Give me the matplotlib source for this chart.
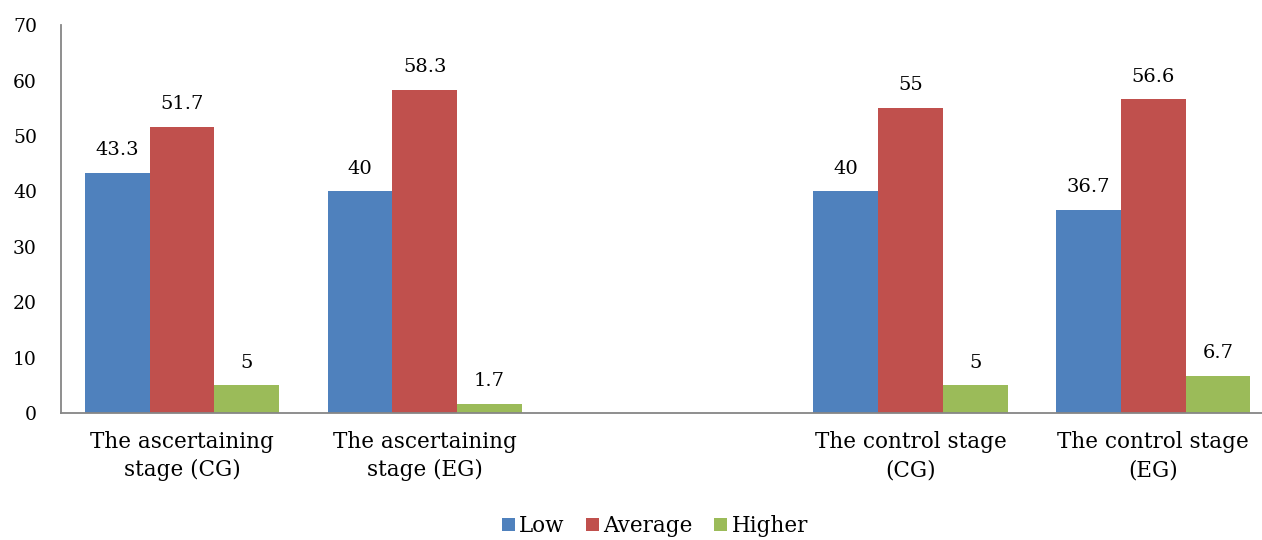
import numpy as np
import matplotlib.pyplot as plt

categories = ['The ascertaining\nstage (CG)', 'The ascertaining\nstage (EG)',
              'The control stage\n(CG)', 'The control stage\n(EG)']
low     = [43.3, 40, 40, 36.7]
average = [51.7, 58.3, 55, 56.6]
higher  = [5, 1.7, 5, 6.7]
series  = ['Low', 'Average', 'Higher']
colors  = ['#4F81BD', '#C0504D', '#9BBB59']

plt.rcParams['font.family'] = ['DejaVu Serif']

fig = plt.figure(figsize=(12.62, 5.4), dpi=100)
ax = fig.add_axes([0.048, 0.235, 0.962, 0.7185])

# empty slot between the two stages
x = np.arange(len(categories)) + (np.arange(len(categories)) >= 2)
w = 0.8/3

for k, (vals, lab, c) in enumerate(zip([low, average, higher], series, colors)):
    pos = x + (k - 1)*w
    bars = ax.bar(pos, vals, width=w, color=c, label=lab)
    for xi, v in zip(pos, vals):
        ax.text(xi, v + 2.5, f'{v:g}', ha='center', va='bottom', fontsize=14)

ax.set_xlim(-0.5, 4.5)
ax.set_ylim(0, 70)
ax.set_yticks(np.arange(0, 71, 10))
ax.set_xticks(x)
ax.set_xticklabels(categories, fontsize=15.5, linespacing=1.35)
ax.tick_params(axis='y', length=0, pad=17, labelsize=13.5)
ax.tick_params(axis='x', length=0, pad=13)

for s in ['top', 'right']:
    ax.spines[s].set_visible(False)
for s in ['left', 'bottom']:
    ax.spines[s].set_color('#868686')
    ax.spines[s].set_linewidth(1.3)

fig.legend(loc='center', bbox_to_anchor=(0.519, 0.026), ncol=3, frameon=False,
           fontsize=15.5, handlelength=0.6, handleheight=0.6, handletextpad=0.2,
           columnspacing=1.0, borderpad=0)

fig.savefig('out.png', dpi=100)
